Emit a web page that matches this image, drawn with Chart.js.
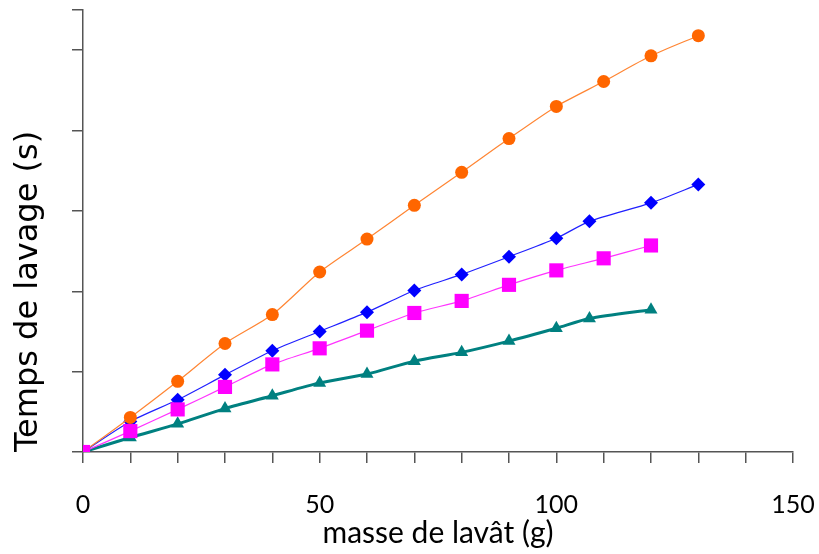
<!DOCTYPE html>
<html>
<head>
<meta charset="utf-8">
<script src="https://cdn.jsdelivr.net/npm/chart.js@4.4.1/dist/chart.umd.min.js"></script>
<style>
html,body{margin:0;padding:0;background:#fff;}
#wrap{width:819px;height:554px;}
</style>
</head>
<body>
<div id="wrap"><canvas id="c" width="819" height="554"></canvas></div>
<script>
// Data (y in arbitrary seconds units, ticks every 100)
const massesOrange = [0,10,20,30,40,50,60,70,80,90,100,110,120,130];
const tempsOrange  = [0,43,88,135,171,224,265,307,348,390,430,461,493,518];

const massesBlue = [0,10,20,30,40,50,60,70,80,90,100,107,120,130];
const tempsBlue  = [0,38,65,96,126,150,174,201,221,243,266,287,310,333];

const massesPink = [0,10,20,30,40,50,60,70,80,90,100,110,120];
const tempsPink  = [0,26,53,81,109,129,151,173,188,208,226,241,257];

const massesGreen = [0,10,20,30,40,50,60,70,80,90,100,107,120];
const tempsGreen  = [0,18,35,54,70,86,97,113,124,138,154,166,177];

const xTickLabels = [0,50,100,150];

function pts(xs, ys){ return xs.map((x,i)=>({x:x,y:ys[i]})); }

const FONT = 'Lato, "Open Sans", sans-serif';

new Chart(document.getElementById('c'), {
  type: 'line',
  data: {
    datasets: [
      {
        data: pts(massesPink, tempsPink),
        borderColor: '#FF33FF', backgroundColor: '#FF00FF',
        borderWidth: 1.2, pointStyle: 'rect', pointRadius: 10,
        pointBorderWidth: 0, pointHoverRadius: 10, tension: 0.25
      },
      {
        data: pts(massesOrange, tempsOrange),
        borderColor: '#FF8533', backgroundColor: '#FF6600',
        borderWidth: 1.2, pointStyle: 'circle', pointRadius: 6.5,
        pointBorderWidth: 0, pointHoverRadius: 6.5, tension: 0.25
      },
      {
        data: pts(massesBlue, tempsBlue),
        borderColor: '#2020FF', backgroundColor: '#0000FF',
        borderWidth: 1.2, pointStyle: 'rectRot', pointRadius: 7,
        pointBorderWidth: 0, pointHoverRadius: 7, tension: 0.25
      },
      {
        data: pts(massesGreen, tempsGreen),
        borderColor: '#008080', backgroundColor: '#008080',
        borderWidth: 3, pointStyle: 'triangle', pointRadius: 7.5,
        pointBorderWidth: 0, pointHoverRadius: 7.5, tension: 0.25
      }
    ]
  },
  options: {
    responsive: false,
    animation: false,
    layout: { padding: { left: 0, right: 26, top: 8, bottom: 0 } },
    plugins: { legend: { display: false }, tooltip: { enabled: false } },
    scales: {
      x: {
        type: 'linear', min: 0, max: 150,
        border: { display: true, color: '#555555', width: 1.5 },
        grid: { drawOnChartArea: false, drawTicks: true, tickLength: 11, color: '#555555', lineWidth: 1.5 },
        ticks: {
          stepSize: 10, autoSkip: false, maxRotation: 0, padding: 27,
          color: '#000', font: { family: FONT, size: 25 },
          callback: v => xTickLabels.includes(v) ? String(v) : ''
        },
        title: { display: true, text: 'masse de lavât (g)', color: '#000',
                 font: { family: FONT, size: 30 }, padding: { top: 0, bottom: 3 } },
        afterFit: s => { s.height = 102; s.paddingLeft = 0; s.paddingRight = 0; }
      },
      y: {
        type: 'linear', min: 0, max: 550,
        border: { display: true, color: '#555555', width: 1.5 },
        grid: { drawOnChartArea: false, drawTicks: true, tickLength: 11, color: '#555555', lineWidth: 1.5 },
        ticks: { stepSize: 100, padding: 0, callback: () => '', font: { size: 1 } },
        title: { display: true, text: 'Temps de lavage (s)', color: '#000', align: 'start',
                 font: { family: '"DejaVu Sans", sans-serif', size: 32 }, padding: { top: 9, bottom: 0 } },
        afterFit: s => { s.width = 83; s.paddingTop = 0; s.paddingBottom = 0; }
      }
    }
  }
});
</script>
</body>
</html>
